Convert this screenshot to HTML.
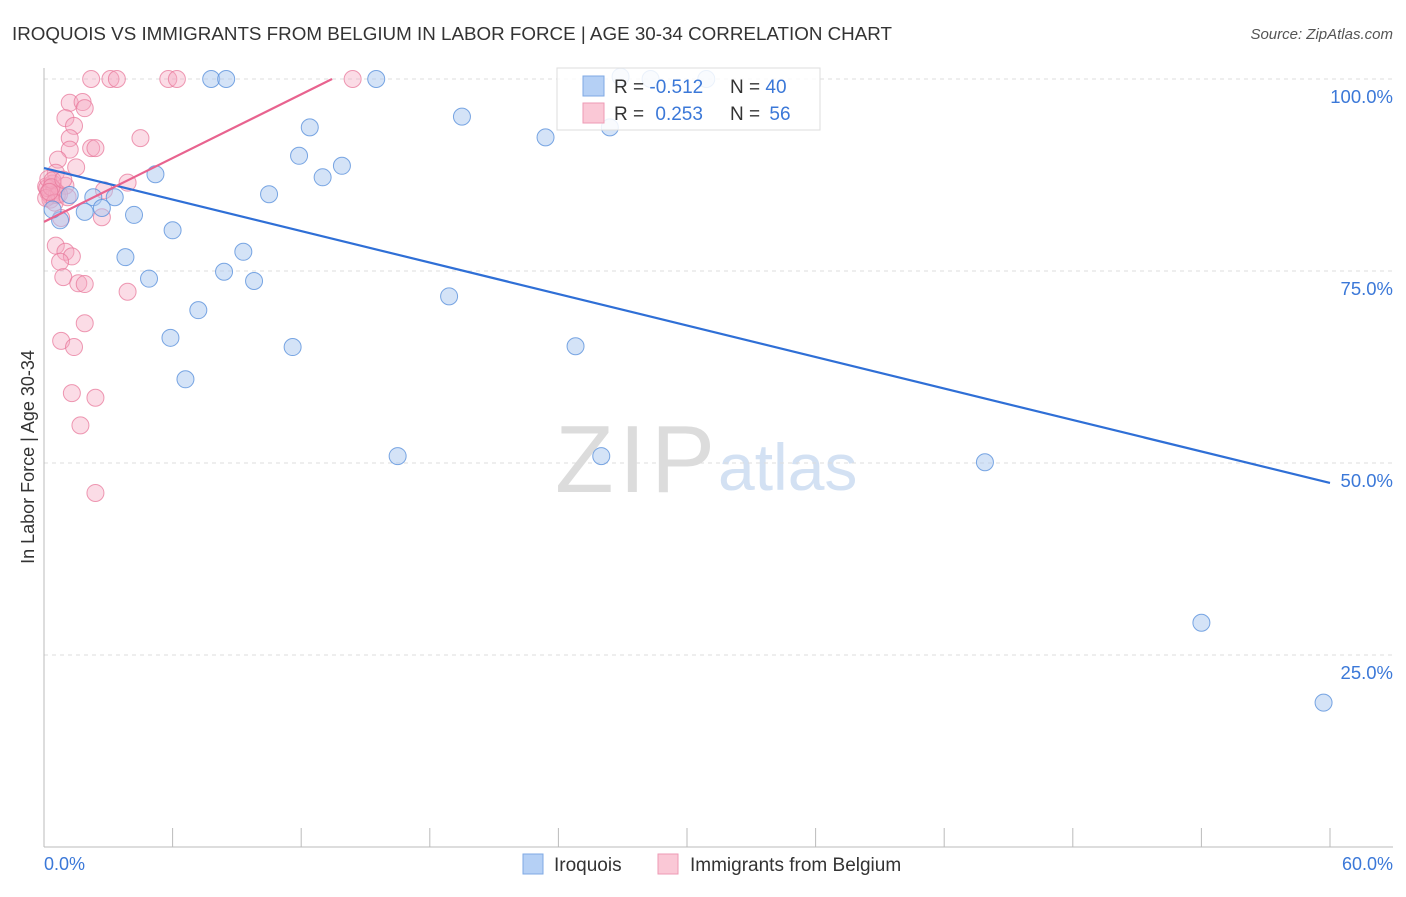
<!DOCTYPE html>
<html><head><meta charset="utf-8"><style>
body{margin:0;background:#fff;font-family:"Liberation Sans",sans-serif;}
svg text{font-family:"Liberation Sans",sans-serif;}
</style></head><body>
<svg id="chart" width="1406" height="892" xmlns="http://www.w3.org/2000/svg">
<text x="12" y="40" font-size="18.5" fill="#333" textLength="880" lengthAdjust="spacingAndGlyphs">IROQUOIS VS IMMIGRANTS FROM BELGIUM IN LABOR FORCE | AGE 30-34 CORRELATION CHART</text>
<text x="1393" y="39" font-size="15" fill="#555" font-style="italic" text-anchor="end">Source: ZipAtlas.com</text>
<g>
<text x="555" y="492" font-size="96" fill="#dcdcdc" font-family="Liberation Serif, serif" textLength="160">ZIP</text>
<text x="718" y="490" font-size="66" fill="#d3e1f3">atlas</text>
</g>
<g id="grid"></g>
<g id="axes"></g>
<g id="points"></g>
<g id="trends"></g>
<g>
<rect x="557" y="68" width="263" height="62" fill="rgba(255,255,255,0.85)" stroke="#ddd"/>
<rect x="583" y="76" width="21" height="20" fill="#b5d0f5" stroke="#7fa9e4"/>
<rect x="583" y="103" width="21" height="20" fill="#fac8d6" stroke="#ee9ab4"/>
<text x="614" y="93" font-size="19" fill="#333">R = <tspan fill="#3b78d8">-0.512</tspan></text>
<text x="730" y="93" font-size="19" fill="#333">N = <tspan fill="#3b78d8">40</tspan></text>
<text x="614" y="120" font-size="19" fill="#333">R = <tspan fill="#3b78d8" dx="6">0.253</tspan></text>
<text x="730" y="120" font-size="19" fill="#333">N = <tspan fill="#3b78d8" dx="4">56</tspan></text>
</g>
<g>
<rect x="523" y="854" width="20" height="20" fill="#b5d0f5" stroke="#7fa9e4"/>
<text x="554" y="871" font-size="19" fill="#333">Iroquois</text>
<rect x="658" y="854" width="20" height="20" fill="#fac8d6" stroke="#ee9ab4"/>
<text x="690" y="871" font-size="19" fill="#333">Immigrants from Belgium</text>
</g>
</svg>
<script>
const yTicks=[25,50,75,100];
const yTickLabels=["25.0%","50.0%","75.0%","100.0%"];
const xTickValues=[0,6,12,18,24,30,36,42,48,54,60];
const xEndLabels=["0.0%","60.0%"];
const iroquoisX=[7.8,8.5,15.5,28.3,30.9,26.9,19.5,23.4,26.4,12.4,11.9,13.9,13.0,5.2,10.5,2.3,3.3,2.7,1.9,4.2,0.75,0.4,6.0,9.3,3.8,8.4,4.9,9.8,18.9,7.2,5.9,11.6,24.8,6.6,16.5,26.0,43.9,54.0,59.7,1.2];
const iroquoisY=[100,100,100,100,100,100.3,95.1,92.4,93.7,93.7,90.0,88.7,87.2,87.6,85.0,84.6,84.6,83.2,82.7,82.3,81.6,83.0,80.3,77.5,76.8,74.9,74.0,73.7,71.7,69.9,66.3,65.1,65.2,60.9,50.9,50.9,50.1,29.2,18.8,84.9];
const belgiumX=[2.2,3.1,3.4,5.8,6.2,14.4,1.2,1.8,1.9,1.0,1.4,1.2,4.5,2.2,2.4,1.2,0.65,1.5,0.55,3.9,2.8,1.0,0.1,0.2,0.3,0.4,0.5,0.3,0.15,0.6,2.7,0.8,0.55,1.0,1.3,0.75,0.9,1.6,1.9,3.9,1.9,0.8,1.4,1.3,2.4,1.7,2.4,0.2,0.4,0.7,0.1,0.35,0.9,0.5,0.25,1.1];
const belgiumY=[100,100,100,100,100,100,96.9,97.0,96.2,94.9,93.9,92.3,92.3,91.0,91.0,90.8,89.5,88.5,87.8,86.5,85.5,86.1,86.0,85.2,84.8,86.4,85.5,84.3,85.8,84.9,82.0,81.9,78.3,77.5,76.9,76.2,74.2,73.4,73.3,72.3,68.2,65.9,65.1,59.1,58.5,54.9,46.1,87.0,86.8,85.0,84.5,85.9,86.9,83.9,85.3,84.6];
const iroquoisTrendX=[0,60];
const iroquoisTrendY=[88.4,47.4];
const belgiumTrendX=[0,13.44];
const belgiumTrendY=[81.4,100];

const X=v=>44+v*(1330-44)/60;
const Y=v=>847-v*7.68;
const NS="http://www.w3.org/2000/svg";
function mk(tag,attrs,parent){const e=document.createElementNS(NS,tag);for(const k in attrs)e.setAttribute(k,attrs[k]);parent.appendChild(e);return e;}
const grid=document.getElementById('grid'),axes=document.getElementById('axes'),pts=document.getElementById('points'),tr=document.getElementById('trends');
yTicks.forEach((t,i)=>{
  const l=mk('line',{x1:44,x2:1393,y1:Y(t),y2:Y(t),stroke:'#ddd','stroke-dasharray':'4,4'},grid);
  
  
  const tx=mk('text',{x:1393,y:Y(t)+24,'font-size':18.5,fill:'#3b78d8','text-anchor':'end'},axes);
  tx.textContent=yTickLabels[i];
  
  
});
const ya=mk('line',{x1:44,x2:44,y1:68,y2:847,stroke:'#bbb'},axes);


const xa=mk('line',{x1:44,x2:1393,y1:847,y2:847,stroke:'#bbb'},axes);


xTickValues.forEach(t=>{
  const l=mk('line',{x1:X(t),x2:X(t),y1:828,y2:847,stroke:'#bbb'},axes);
  
  
});
const xl0=mk('text',{x:44,y:870,'font-size':18,fill:'#3b78d8'},axes);xl0.textContent=xEndLabels[0];


const xl1=mk('text',{x:1393,y:870,'font-size':18,fill:'#3b78d8','text-anchor':'end'},axes);xl1.textContent=xEndLabels[1];


const yt=mk('text',{x:34,y:457,'font-size':18,fill:'#333','text-anchor':'middle',transform:'rotate(-90 34 457)'},axes);yt.textContent='In Labor Force | Age 30-34';


belgiumX.forEach((x,i)=>{
  const c=mk('circle',{cx:X(x),cy:Y(belgiumY[i]),r:8.5,fill:'rgba(246,168,192,0.4)',stroke:'rgba(232,120,155,0.75)','stroke-width':1},pts);
  
  
});
iroquoisX.forEach((x,i)=>{
  const c=mk('circle',{cx:X(x),cy:Y(iroquoisY[i]),r:8.5,fill:'rgba(169,200,240,0.5)',stroke:'rgba(90,145,220,0.8)','stroke-width':1},pts);
  
  
});
const bl=mk('line',{x1:X(iroquoisTrendX[0]),y1:Y(iroquoisTrendY[0]),x2:X(iroquoisTrendX[1]),y2:Y(iroquoisTrendY[1]),stroke:'#2f6fd6','stroke-width':2.2},tr);


const pl=mk('line',{x1:X(belgiumTrendX[0]),y1:Y(belgiumTrendY[0]),x2:X(belgiumTrendX[1]),y2:Y(belgiumTrendY[1]),stroke:'#e8638f','stroke-width':2.2},tr);


</script>
</body></html>
